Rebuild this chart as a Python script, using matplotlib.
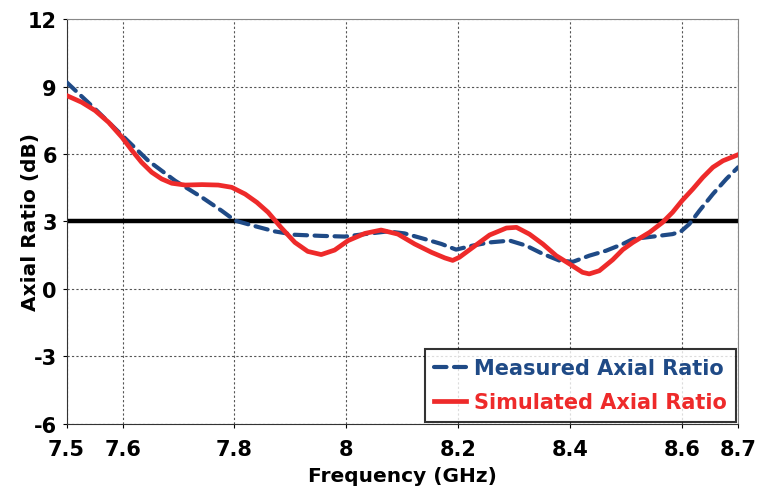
import numpy as np
import matplotlib
matplotlib.use("Agg")
import matplotlib.pyplot as plt

# frequency (GHz) / axial ratio (dB)
meas_freq = [7.500, 7.551, 7.600, 7.646, 7.694, 7.742, 7.777, 7.801, 7.837, 7.872,
             7.908, 7.955, 7.997, 8.033, 8.074, 8.104, 8.140, 8.170, 8.196, 8.226,
             8.256, 8.292, 8.321, 8.351, 8.381, 8.405, 8.434, 8.464, 8.494, 8.512,
             8.548, 8.583, 8.598, 8.613, 8.631, 8.655, 8.679, 8.700]
meas_ar = [9.19, 8.0, 6.81, 5.7, 4.81, 4.07, 3.48, 3.04, 2.79, 2.56,
           2.41, 2.36, 2.33, 2.44, 2.56, 2.47, 2.22, 2.0, 1.75, 1.93,
           2.07, 2.15, 1.93, 1.56, 1.26, 1.21, 1.48, 1.7, 2.0, 2.22,
           2.33, 2.44, 2.56, 2.89, 3.48, 4.22, 4.89, 5.41]

sim_freq = [7.500, 7.527, 7.551, 7.575, 7.599, 7.617, 7.634, 7.652, 7.670, 7.688,
            7.712, 7.742, 7.771, 7.795, 7.819, 7.840, 7.860, 7.883, 7.908, 7.931,
            7.955, 7.979, 8.003, 8.033, 8.062, 8.092, 8.122, 8.152, 8.176, 8.190,
            8.202, 8.226, 8.256, 8.286, 8.304, 8.327, 8.351, 8.375, 8.399, 8.422,
            8.434, 8.452, 8.476, 8.494, 8.512, 8.542, 8.565, 8.583, 8.600, 8.619,
            8.637, 8.655, 8.673, 8.700]
sim_ar = [8.6, 8.3, 7.93, 7.41, 6.74, 6.15, 5.63, 5.19, 4.89, 4.7,
          4.62, 4.64, 4.62, 4.52, 4.22, 3.85, 3.41, 2.74, 2.07, 1.67,
          1.53, 1.73, 2.15, 2.47, 2.62, 2.44, 2.0, 1.63, 1.38, 1.27,
          1.41, 1.85, 2.4, 2.71, 2.74, 2.44, 2.0, 1.48, 1.11, 0.74,
          0.67, 0.81, 1.3, 1.75, 2.07, 2.52, 2.96, 3.41, 3.93, 4.44,
          4.96, 5.41, 5.7, 5.97]

ar_limit = 3
x_ticks = [7.5, 7.6, 7.8, 8.0, 8.2, 8.4, 8.6, 8.7]
x_labels = ["7.5", "7.6", "7.8", "8", "8.2", "8.4", "8.6", "8.7"]
y_ticks = [-6, -3, 0, 3, 6, 9, 12]
y_labels = ["-6", "-3", "0", "3", "6", "9", "12"]

blue = "#1f4a86"
red = "#ee2a2a"

plt.rcParams['font.family'] = ['DejaVu Sans']
fig = plt.figure(figsize=(7.57, 4.89), dpi=100)
ax = fig.add_axes([0.088, 0.131, 0.887, 0.828])

ax.axhline(ar_limit, color="black", lw=3.2, zorder=2)
ax.plot(meas_freq, meas_ar, color=blue, lw=3.0, dashes=(3, 1.8),
        solid_capstyle="round", dash_capstyle="round",
        label="Measured Axial Ratio", zorder=3)
ax.plot(sim_freq, sim_ar, color=red, lw=3.4, solid_joinstyle="round",
        label="Simulated Axial Ratio", zorder=4)

ax.set_xlim(7.5, 8.7)
ax.set_ylim(-6, 12)
ax.set_xticks(x_ticks)
ax.set_xticklabels(x_labels)
ax.set_yticks(y_ticks)
ax.set_yticklabels(y_labels)
ax.tick_params(labelsize=15, length=3, width=0.8)
ax.tick_params(axis="x", pad=8)
ax.tick_params(axis="y", pad=4)
for lab in ax.get_xticklabels() + ax.get_yticklabels():
    lab.set_fontweight("bold")

ax.grid(True, linestyle=(0, (2, 2)), color="#555555", lw=0.8)
for side in ["top", "right"]:
    ax.spines[side].set_color("#888888")
for side in ["left", "bottom"]:
    ax.spines[side].set_color("#333333")

ax.set_xlabel("Frequency (GHz)", fontsize=14.5, fontweight="bold")
ax.set_ylabel("Axial Ratio (dB)", fontsize=14.5, fontweight="bold")
ax.xaxis.set_label_coords(0.5, -0.103)
ax.yaxis.set_label_coords(-0.04, 0.5)

leg = ax.legend(loc="lower right", fontsize=15, frameon=True, fancybox=False,
                borderaxespad=0.1, handlelength=1.55, handletextpad=0.35,
                borderpad=0.45, labelspacing=0.7)
leg.get_frame().set_edgecolor("black")
leg.get_frame().set_linewidth(1.5)
for txt, col in zip(leg.get_texts(), [blue, red]):
    txt.set_color(col)
    txt.set_fontweight("bold")

fig.savefig("out.png", dpi=100)
